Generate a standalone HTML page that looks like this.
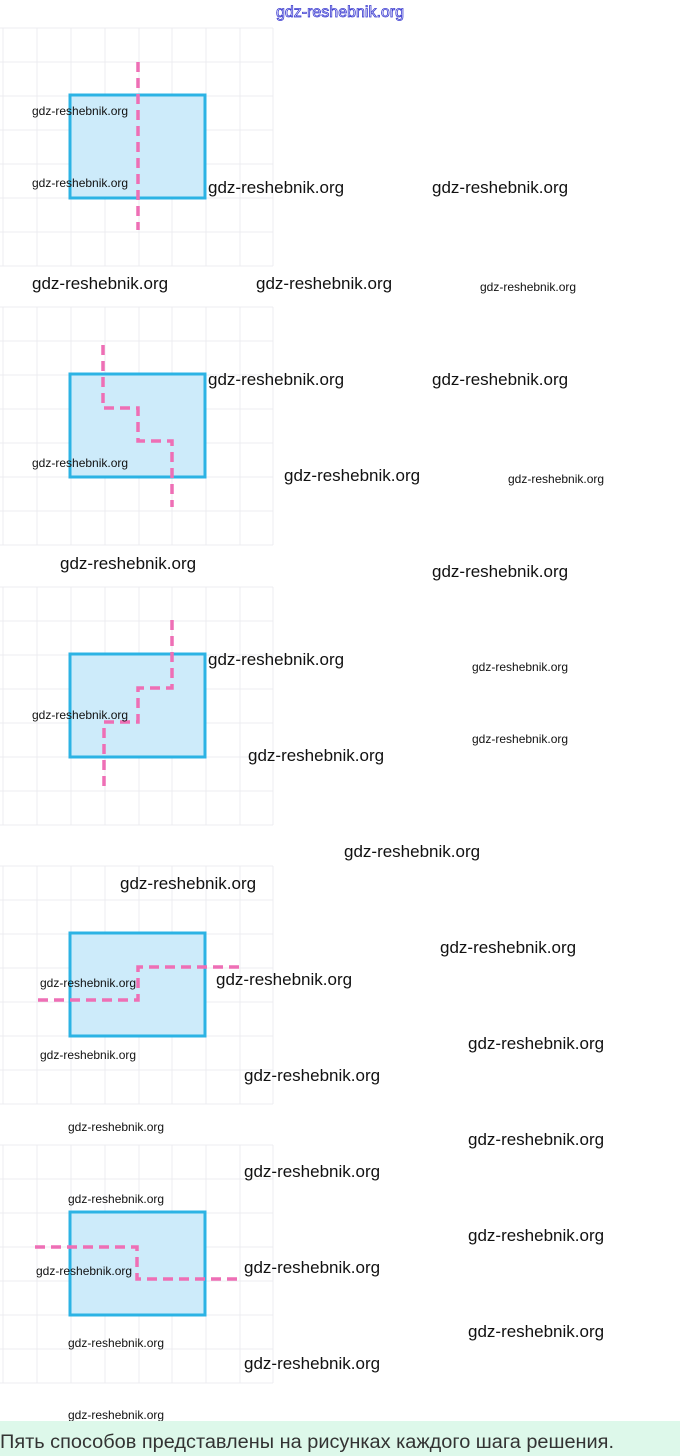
<!DOCTYPE html>
<html><head><meta charset="utf-8"><style>
html,body{margin:0;padding:0;background:#fff;width:680px;height:1456px;overflow:hidden}
svg{display:block}
.w{font-family:"Liberation Sans",sans-serif;fill:#111}
.L{font-size:17px}.S{font-size:12px}
</style></head><body>
<svg width="680" height="1456" viewBox="0 0 680 1456" xmlns="http://www.w3.org/2000/svg">
<defs>
<g id="grid" stroke="#ececf0" stroke-width="1">
<line x1="3" y1="28" x2="3" y2="266"/><line x1="37" y1="28" x2="37" y2="266"/><line x1="71" y1="28" x2="71" y2="266"/><line x1="105" y1="28" x2="105" y2="266"/><line x1="139" y1="28" x2="139" y2="266"/><line x1="172" y1="28" x2="172" y2="266"/><line x1="206" y1="28" x2="206" y2="266"/><line x1="240" y1="28" x2="240" y2="266"/><line x1="273" y1="28" x2="273" y2="266"/>
<line x1="0" y1="28" x2="273" y2="28"/><line x1="0" y1="62" x2="273" y2="62"/><line x1="0" y1="96" x2="273" y2="96"/><line x1="0" y1="130" x2="273" y2="130"/><line x1="0" y1="164" x2="273" y2="164"/><line x1="0" y1="198" x2="273" y2="198"/><line x1="0" y1="232" x2="273" y2="232"/><line x1="0" y1="266" x2="273" y2="266"/>
</g>
<rect id="rc" x="70" y="95" width="135" height="103" fill="#cdebfa" stroke="#2cb3e4" stroke-width="3"/>
</defs>
<text x="340" y="17" text-anchor="middle" font-family="Liberation Sans,sans-serif" font-size="16" fill="#fff" stroke="#3a3ad0" stroke-width="0.8">gdz-reshebnik.org</text>

<g><use href="#grid"/><use href="#rc"/>
<path d="M138 62 V230" fill="none" stroke="#ee6fb5" stroke-width="3.5" stroke-dasharray="10,6"/></g>
<g transform="translate(0,279)"><use href="#grid"/><use href="#rc"/>
<path d="M103 66 V129 H138 V162 H172 V228" fill="none" stroke="#ee6fb5" stroke-width="3.5" stroke-dasharray="10,6"/></g>
<g transform="translate(0,559)"><use href="#grid"/><use href="#rc"/>
<path d="M172 61 V129 H138 V163 H104 V231" fill="none" stroke="#ee6fb5" stroke-width="3.5" stroke-dasharray="10,6"/></g>
<g transform="translate(0,838)"><use href="#grid"/><use href="#rc"/>
<path d="M38 162 H138 V129 H240" fill="none" stroke="#ee6fb5" stroke-width="3.5" stroke-dasharray="10,6"/></g>
<g transform="translate(0,1117)"><use href="#grid"/><use href="#rc"/>
<path d="M35 130 H137 V162 H240" fill="none" stroke="#ee6fb5" stroke-width="3.5" stroke-dasharray="10,6"/></g>

<g class="w">
<text class="S" x="32" y="115">gdz-reshebnik.org</text>
<text class="S" x="32" y="187">gdz-reshebnik.org</text>
<text class="L" x="208" y="193">gdz-reshebnik.org</text>
<text class="L" x="432" y="193">gdz-reshebnik.org</text>
<text class="L" x="32" y="289">gdz-reshebnik.org</text>
<text class="L" x="256" y="289">gdz-reshebnik.org</text>
<text class="S" x="480" y="291">gdz-reshebnik.org</text>
<text class="L" x="208" y="385">gdz-reshebnik.org</text>
<text class="L" x="432" y="385">gdz-reshebnik.org</text>
<text class="S" x="32" y="467">gdz-reshebnik.org</text>
<text class="L" x="284" y="481">gdz-reshebnik.org</text>
<text class="S" x="508" y="483">gdz-reshebnik.org</text>
<text class="L" x="60" y="569">gdz-reshebnik.org</text>
<text class="L" x="432" y="577">gdz-reshebnik.org</text>
<text class="L" x="208" y="665">gdz-reshebnik.org</text>
<text class="S" x="472" y="671">gdz-reshebnik.org</text>
<text class="S" x="32" y="719">gdz-reshebnik.org</text>
<text class="S" x="472" y="743">gdz-reshebnik.org</text>
<text class="L" x="248" y="761">gdz-reshebnik.org</text>
<text class="L" x="344" y="857">gdz-reshebnik.org</text>
<text class="L" x="120" y="889">gdz-reshebnik.org</text>
<text class="L" x="440" y="953">gdz-reshebnik.org</text>
<text class="S" x="40" y="987">gdz-reshebnik.org</text>
<text class="L" x="216" y="985">gdz-reshebnik.org</text>
<text class="L" x="468" y="1049">gdz-reshebnik.org</text>
<text class="S" x="40" y="1059">gdz-reshebnik.org</text>
<text class="L" x="244" y="1081">gdz-reshebnik.org</text>
<text class="S" x="68" y="1131">gdz-reshebnik.org</text>
<text class="L" x="468" y="1145">gdz-reshebnik.org</text>
<text class="L" x="244" y="1177">gdz-reshebnik.org</text>
<text class="S" x="68" y="1203">gdz-reshebnik.org</text>
<text class="L" x="468" y="1241">gdz-reshebnik.org</text>
<text class="S" x="36" y="1275">gdz-reshebnik.org</text>
<text class="L" x="244" y="1273">gdz-reshebnik.org</text>
<text class="L" x="468" y="1337">gdz-reshebnik.org</text>
<text class="S" x="68" y="1347">gdz-reshebnik.org</text>
<text class="L" x="244" y="1369">gdz-reshebnik.org</text>
<text class="S" x="68" y="1419">gdz-reshebnik.org</text>
</g>
<rect x="0" y="1421" width="680" height="35" fill="#ddf8ea"/>
<text x="0" y="1448" font-family="Liberation Sans,sans-serif" font-size="19" fill="#333" textLength="614" lengthAdjust="spacingAndGlyphs">Пять способов представлены на рисунках каждого шага решения.</text>
</svg>
</body></html>
